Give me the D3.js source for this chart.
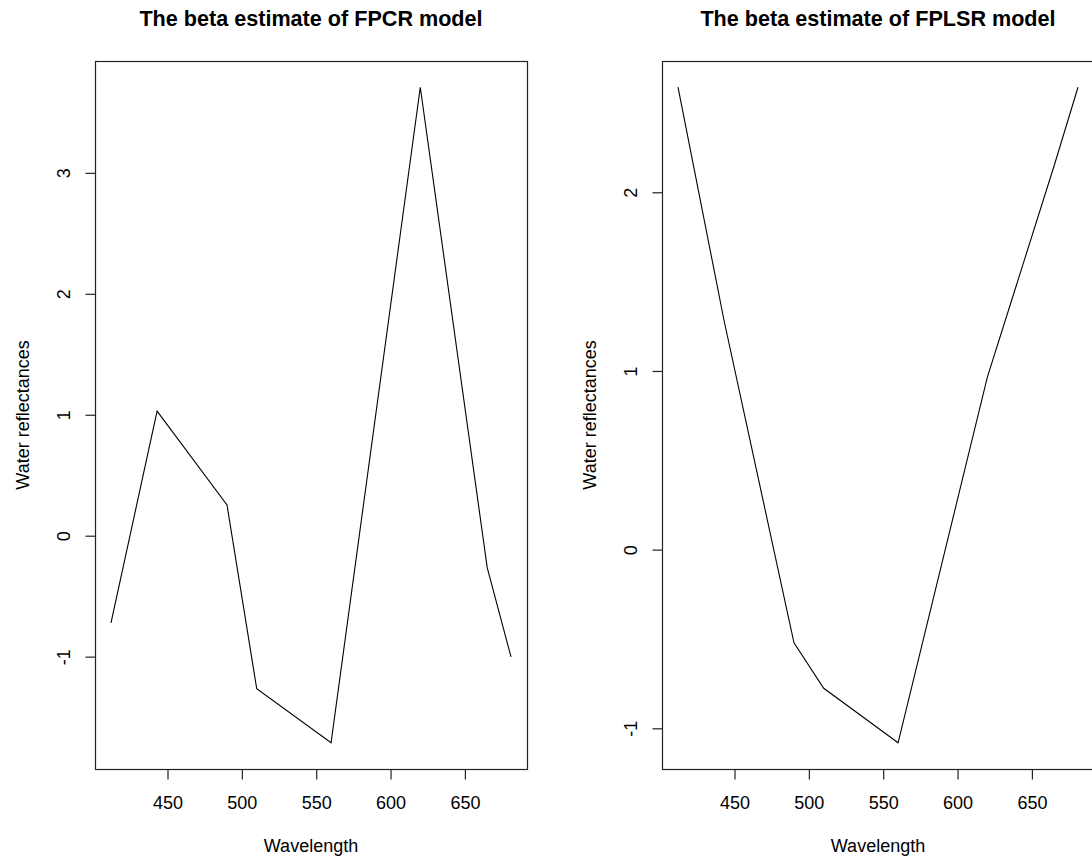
<!DOCTYPE html>
<html>
<head>
<meta charset="utf-8">
<script src="https://cdn.jsdelivr.net/npm/d3@7"></script>
<style>
  html, body { margin: 0; padding: 0; background: #fff; }
  svg { display: block; }
  text { font-family: "Liberation Sans", Arial, sans-serif; fill: #000; }
</style>
</head>
<body>
<svg id="chart" width="1092" height="858"></svg>
<script>
// ---- data ----
const wavelengths = [412, 443, 490, 510, 560, 620, 665, 681];
const fpcrBeta   = [-0.72, 1.03, 0.255, -1.265, -1.712, 3.708, -0.264, -1.002];
const fplsrBeta  = [2.588, 1.281, -0.522, -0.776, -1.081, 0.964, 2.15, 2.588];
const xTicks     = [450, 500, 550, 600, 650];
const fpcrYTicks = [-1, 0, 1, 2, 3];
const fplsrYTicks= [-1, 0, 1, 2];
const titles     = ["The beta estimate of FPCR model", "The beta estimate of FPLSR model"];
const xLabel     = "Wavelength";
const yLabel     = "Water reflectances";

// ---- layout ----
const svg = d3.select("#chart");
svg.append("rect").attr("width", 1092).attr("height", 858).attr("fill", "#fff");

const panels = [
  { left: 95,  right: 527,  values: fpcrBeta,  yTicks: fpcrYTicks, title: titles[0] },
  { left: 662, right: 1094, values: fplsrBeta, yTicks: fplsrYTicks, title: titles[1] }
];
const plotTop = 61, plotBottom = 769;
const plainFmt = d => String(d);   // R uses ASCII hyphen for minus

function rDomain(vals) {
  const [a, b] = d3.extent(vals);
  const e = 0.04 * (b - a);
  return [a - e, b + e];
}

panels.forEach(p => {
  const g = svg.append("g");
  const x = d3.scaleLinear().domain(rDomain(wavelengths)).range([p.left, p.right]);
  const y = d3.scaleLinear().domain(rDomain(p.values)).range([plotBottom, plotTop]);

  // line
  const line = d3.line().x((d, i) => x(wavelengths[i])).y(d => y(d));
  g.append("path")
    .datum(p.values)
    .attr("d", line)
    .attr("fill", "none")
    .attr("stroke", "#000")
    .attr("stroke-width", 1.1)
    .attr("stroke-linejoin", "miter");

  // box
  g.append("rect")
    .attr("x", p.left + 0.5).attr("y", plotTop + 0.5)
    .attr("width", p.right - p.left).attr("height", plotBottom - plotTop)
    .attr("fill", "none").attr("stroke", "#222").attr("stroke-width", 1.2);

  // x axis
  const xa = g.append("g").attr("transform", `translate(0,${plotBottom + 0.5})`)
    .call(d3.axisBottom(x).tickValues(xTicks).tickSize(10).tickSizeOuter(0).tickFormat(plainFmt));
  xa.select(".domain").remove();
  xa.selectAll(".tick line").attr("stroke", "#222").attr("stroke-width", 1.2);
  xa.selectAll(".tick text").attr("y", 0).attr("dy", 0).attr("transform", "translate(0,39)")
    .style("font-size", "18px").style("font-family", '"Liberation Sans", Arial, sans-serif').attr("fill", "#000");

  // y axis
  const ya = g.append("g").attr("transform", `translate(${p.left + 0.5},0)`)
    .call(d3.axisLeft(y).tickValues(p.yTicks).tickSize(10).tickSizeOuter(0).tickFormat(plainFmt));
  ya.select(".domain").remove();
  ya.selectAll(".tick line").attr("stroke", "#222").attr("stroke-width", 1.2);
  ya.selectAll(".tick text")
    .attr("x", 0).attr("y", -26).attr("dy", 0)
    .attr("transform", "rotate(-90)")
    .attr("text-anchor", "middle")
    .style("font-size", "18px").style("font-family", '"Liberation Sans", Arial, sans-serif').attr("fill", "#000");

  const cx = (p.left + p.right) / 2;
  // title
  g.append("text").attr("x", cx).attr("y", 26).attr("text-anchor", "middle")
    .style("font-size", "21.6px").style("font-weight", "bold").text(p.title);
  // x label
  g.append("text").attr("x", cx).attr("y", 852).attr("text-anchor", "middle")
    .style("font-size", "18px").text(xLabel);
  // y label
  g.append("text").attr("transform", `translate(${p.left - 66},${(plotTop + plotBottom) / 2}) rotate(-90)`)
    .attr("text-anchor", "middle").style("font-size", "18px").text(yLabel);
});
</script>
</body>
</html>
